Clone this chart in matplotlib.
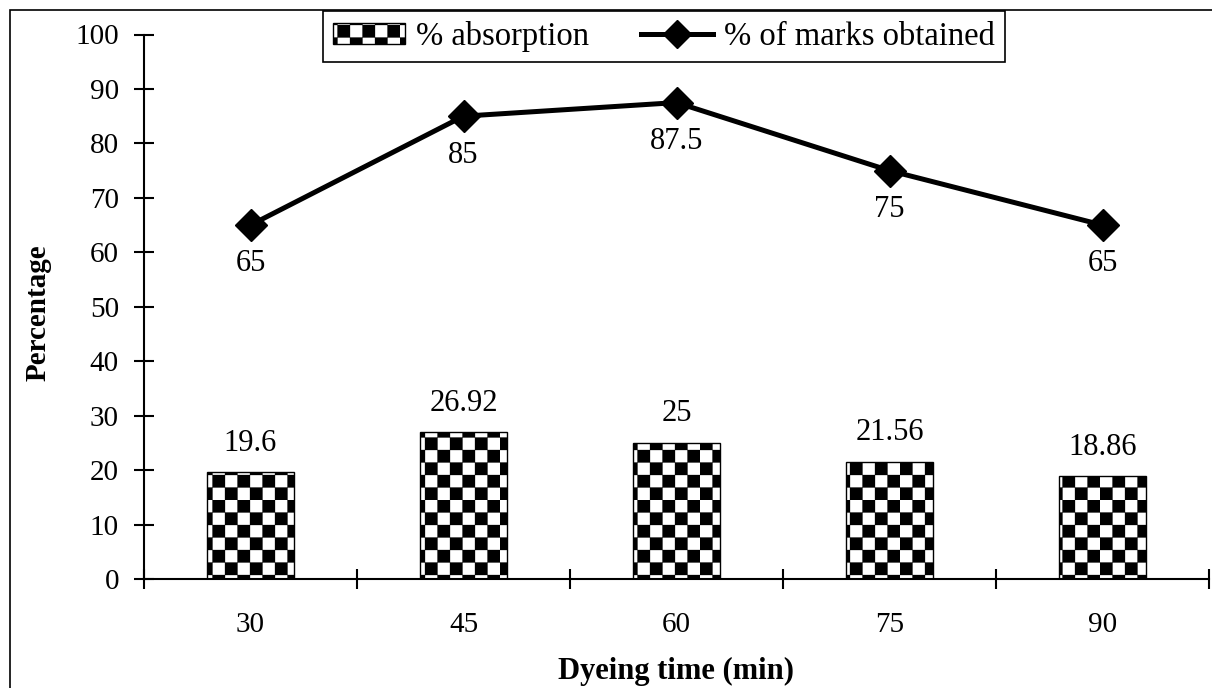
import warnings
import numpy as np
import matplotlib
matplotlib.use("Agg")
import matplotlib.pyplot as plt
from matplotlib import hatch as mhatch
from matplotlib.path import Path
from matplotlib.patches import Rectangle

warnings.filterwarnings("ignore")

# data
times = ["30", "45", "60", "75", "90"]
absorption = [19.6, 26.92, 25, 21.56, 18.86]
marks = [65, 85, 87.5, 75, 65]
yticks = [0, 10, 20, 30, 40, 50, 60, 70, 80, 90, 100]


# checkerboard hatch, drawn with the 'c' character
class CheckerHatch(mhatch.HatchPatternBase):
    def __init__(self, hatch, density):
        self.n = 8 if "c" in hatch else 0
        self.num_vertices = (self.n * self.n // 2) * 5

    def set_vertices_and_codes(self, vertices, codes):
        s = 1.0 / self.n
        k = 0
        for i in range(self.n):
            for j in range(self.n):
                if (i + j) % 2 == 0:
                    x, y = j * s, i * s
                    vertices[k:k + 5] = [(x, y), (x + s, y), (x + s, y + s), (x, y + s), (x, y)]
                    codes[k:k + 5] = [Path.MOVETO, Path.LINETO, Path.LINETO, Path.LINETO, Path.CLOSEPOLY]
                    k += 5


mhatch._hatch_types.append(CheckerHatch)

plt.rcParams["font.family"] = ["Liberation Serif", "DejaVu Serif"]
plt.rcParams["hatch.linewidth"] = 0.2

W, H = 1212, 688
fig = plt.figure(figsize=(W / 100, H / 100), dpi=100)
ax = fig.add_axes([144 / W, 1 - 579 / H, (1209 - 144) / W, (579 - 34.5) / H])

x = np.arange(len(times))
bars = ax.bar(x, absorption, width=0.41, color="white", edgecolor="black",
              linewidth=1.0, hatch="c", zorder=2, label="% absorption")
line, = ax.plot(x, marks, color="black", linewidth=3.6, marker="D", markersize=16.5,
                zorder=3, label="% of marks obtained")

for xi, v in zip(x, absorption):
    ax.annotate(f"{v:g}", (xi, v), xytext=(0, 21), textcoords="offset points",
                ha="center", va="center", fontsize=22)
for xi, v in zip(x, marks):
    ax.annotate(f"{v:g}", (xi, v), xytext=(0, -28), textcoords="offset points",
                ha="center", va="center", fontsize=22)

ax.set_xlim(-0.5, len(times) - 0.5)
ax.set_ylim(0, 100)
ax.set_yticks(yticks)
ax.set_xticks(x)
ax.set_xticklabels(times)
ax.set_xticks(np.arange(-0.5, len(times), 1), minor=True)
ax.tick_params(axis="x", which="major", length=0, pad=24, labelsize=21)
ax.tick_params(axis="x", which="minor", direction="inout", length=14, width=1.5)
ax.tick_params(axis="y", direction="inout", length=14, width=1.5, pad=11, labelsize=21)

for side in ["top", "right"]:
    ax.spines[side].set_visible(False)
for side in ["left", "bottom"]:
    ax.spines[side].set_linewidth(1.5)

ax.set_ylabel("Percentage", fontsize=21, fontweight="bold")
ax.yaxis.set_label_coords(-0.087, 0.49)
ax.set_xlabel("Dyeing time (min)", fontsize=22, fontweight="bold")
ax.xaxis.label.set_va("center")
ax.xaxis.set_label_coords(0.5, -0.169)

leg = fig.legend(handles=[bars, line], loc="upper left",
                 bbox_to_anchor=(323 / W, 1 - 11 / H), ncol=2, fontsize=23.5,
                 frameon=True, fancybox=False, framealpha=1, edgecolor="black",
                 borderaxespad=0, borderpad=0.3, handlelength=2.2, handleheight=0.6,
                 handletextpad=0.35, columnspacing=1.6, markerscale=0.85)
leg.get_frame().set_linewidth(1.2)

# border round the whole chart
fig.add_artist(Rectangle((10 / W, -0.05), 1.2, 1 - 10 / H + 0.05,
                         transform=fig.transFigure, fill=False,
                         edgecolor="black", linewidth=1.2, clip_on=False))

fig.savefig("out.png", dpi=100)
